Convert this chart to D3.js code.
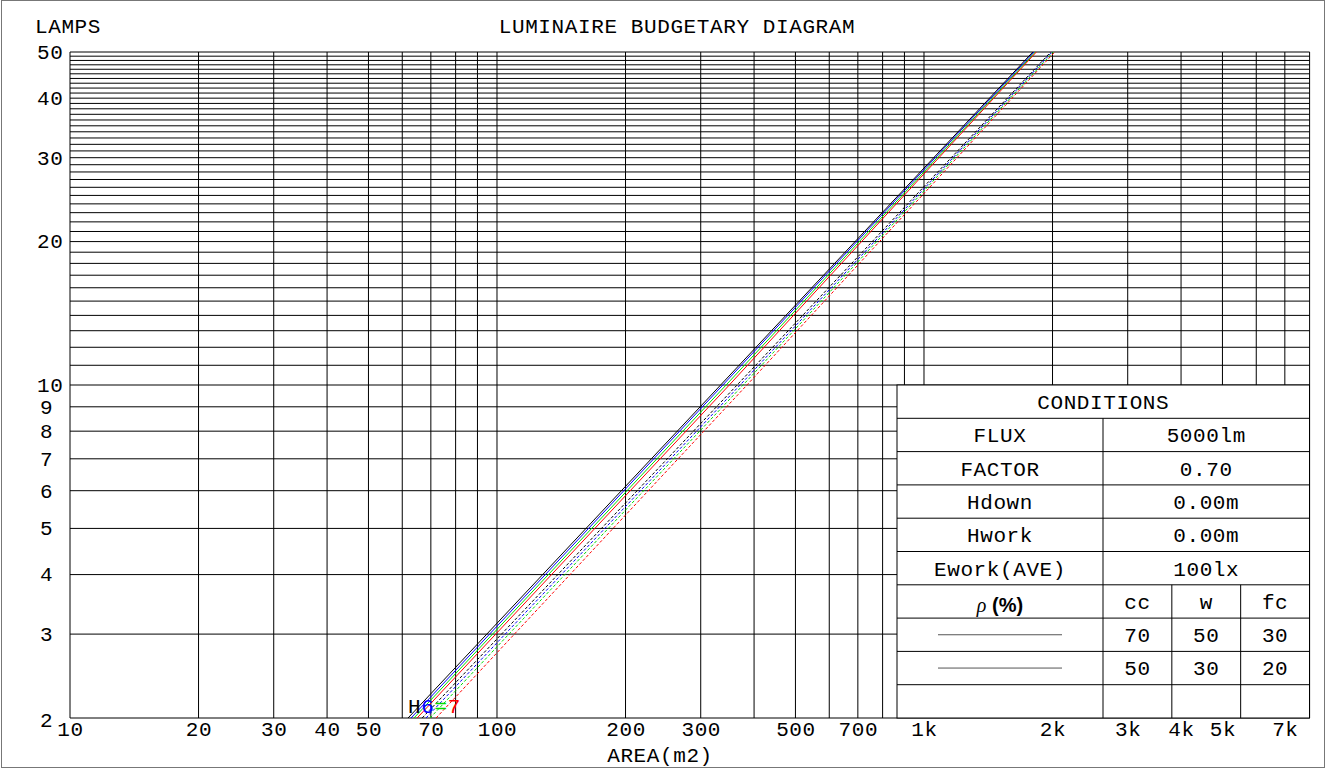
<!DOCTYPE html>
<html>
<head>
<meta charset="utf-8">
<script src="https://cdn.jsdelivr.net/npm/d3@7"></script>
<style>
  body { margin: 0; background: #fff; }
  text { font-family: "Courier New", "Liberation Mono", monospace; fill: #000; letter-spacing: 0.6px; }
</style>
</head>
<body>
<script>
// axis values
var xGridValues = [10,20,30,40,50,60,70,80,90,100,200,300,400,500,600,700,800,900,1000,2000,3000,4000,5000,6000,7000,8000];
var xTickValues = [10,20,30,40,50,70,100,200,300,500,700,1000,2000,3000,4000,5000,7000];
var xTickLabels = ["10","20","30","40","50","70","100","200","300","500","700","1k","2k","3k","4k","5k","7k"];
var yTickValues = [2,3,4,5,6,7,8,9,10,20,30,40,50];
var yGridValues = d3.range(2, 51);

// lamp counts at which areas were read
var lampCounts = [2, 10, 50];
// area (m2) per lamp count, 8 curves
var blackSolid = [61.9, 334, 1798];
var blueSolid  = [62.9, 338, 1810];
var greenSolid = [63.9, 344, 1823];
var redSolid   = [65.0, 350, 1833];
var blackDash  = [66.8, 365, 1981];
var blueDash   = [68.2, 371, 1995];
var greenDash  = [69.7, 377, 2009];
var redDash    = [72.0, 385, 2024];
var curveLabels = ["H", "6", "=", "7"];

// conditions table
var condNames = ["FLUX", "FACTOR", "Hdown", "Hwork", "Ework(AVE)"];
var condValues = ["5000lm", "0.70", "0.00m", "0.00m", "100lx"];
var reflHeads = ["cc", "w", "fc"];
var reflRow1 = ["70", "50", "30"];
var reflRow2 = ["50", "30", "20"];

var curves = [
	{area: blackSolid, color: "#000000", dash: null},
	{area: blueSolid,  color: "#0000ff", dash: null},
	{area: greenSolid, color: "#00dd00", dash: null},
	{area: redSolid,   color: "#ff0000", dash: null},
	{area: blackDash,  color: "#000000", dash: "3,2"},
	{area: blueDash,   color: "#0000ff", dash: "3,2"},
	{area: greenDash,  color: "#00dd00", dash: "3,2"},
	{area: redDash,    color: "#ff0000", dash: "3,2"}
];

var W = 1327, H = 769;
var plotL = 70, plotR = 1309.6, plotT = 52, plotB = 718;
var fs = 21;

var svg = d3.select("body").append("svg")
	.attr("width", W)
	.attr("height", H);

svg.append("rect")
	.attr("x", 1.5).attr("y", 0.5)
	.attr("width", W - 4).attr("height", H - 2)
	.attr("fill", "none")
	.attr("stroke", "#777");

var x = d3.scaleLog().domain([10, 8000]).range([plotL, plotR]);
var y = d3.scaleLog().domain([2, 50]).range([plotB, plotT]);

var grid = svg.append("g").attr("stroke", "#000").attr("stroke-width", 1);

grid.selectAll("line.h")
	.data(yGridValues)
	.enter().append("line")
	.attr("class", "h")
	.attr("x1", plotL).attr("x2", plotR)
	.attr("y1", function(d) { return y(d); })
	.attr("y2", function(d) { return y(d); });

grid.selectAll("line.v")
	.data(xGridValues)
	.enter().append("line")
	.attr("class", "v")
	.attr("x1", function(d) { return x(d); })
	.attr("x2", function(d) { return x(d); })
	.attr("y1", plotT).attr("y2", plotB);

// axes labels, drawn with d3 axes but lines removed
var xAxis = svg.append("g")
	.attr("transform", "translate(0," + (plotB + 3) + ")")
	.call(d3.axisBottom(x).tickValues(xTickValues).tickSize(0)
		.tickFormat(function(d, i) { return xTickLabels[i]; }));
xAxis.select(".domain").remove();
xAxis.selectAll("text")
	.attr("font-family", null)
	.attr("font-size", fs)
	.attr("dy", "0.55em");
xAxis.attr("font-family", null).attr("font-size", null);

var yAxis = svg.append("g")
	.attr("transform", "translate(37,0)")
	.call(d3.axisLeft(y).tickValues(yTickValues).tickSize(0)
		.tickFormat(d3.format("d")));
yAxis.select(".domain").remove();
yAxis.attr("font-family", null).attr("font-size", null);
yAxis.selectAll("text")
	.attr("font-size", fs)
	.attr("text-anchor", "start")
	.attr("x", function(d) { return d < 10 ? 3 : 0; })
	.attr("dy", function(d) { return d == 2 ? "0.4em" : "0.3em"; });

svg.append("text").attr("x", 35).attr("y", 33).attr("font-size", fs).text("LAMPS");
svg.append("text").attr("x", 677).attr("y", 33).attr("font-size", fs)
	.attr("text-anchor", "middle").text("LUMINAIRE BUDGETARY DIAGRAM");
svg.append("text").attr("x", 660).attr("y", 762).attr("font-size", fs)
	.attr("text-anchor", "middle").text("AREA(m2)");

// curves
var line = d3.line()
	.x(function(d) { return x(d[1]); })
	.y(function(d) { return y(d[0]); });

svg.append("g").selectAll("path")
	.data(curves)
	.enter().append("path")
	.attr("d", function(c) { return line(lampCounts.map(function(n, i) { return [n, c.area[i]]; })); })
	.attr("fill", "none")
	.attr("stroke", function(c) { return c.color; })
	.attr("stroke-width", 1)
	.attr("stroke-dasharray", function(c) { return c.dash; });

// overlapping curve labels at the low end
svg.append("g").selectAll("text")
	.data(curveLabels)
	.enter().append("text")
	.attr("x", function(d, i) { return x(curves[0].area[0]) + i * 13.2; })
	.attr("y", y(2) - 5)
	.attr("font-size", fs)
	.style("fill", function(d, i) { return curves[i].color; })
	.text(function(d) { return d; });

// conditions table
var tx0 = 897, tx1 = 1103, tx2 = 1309.5, ty0 = y(10), rowH = (plotB - ty0) / 10;
var subW = (tx2 - tx1) / 3;
var tbl = svg.append("g");

tbl.append("rect")
	.attr("x", tx0).attr("y", ty0)
	.attr("width", tx2 - tx0).attr("height", plotB - ty0)
	.attr("fill", "#fff").attr("stroke", "#000");

tbl.selectAll("line.row")
	.data(d3.range(1, 10))
	.enter().append("line")
	.attr("x1", tx0).attr("x2", tx2)
	.attr("y1", function(d) { return ty0 + d * rowH; })
	.attr("y2", function(d) { return ty0 + d * rowH; })
	.attr("stroke", "#000");

tbl.append("line")
	.attr("x1", tx1).attr("x2", tx1)
	.attr("y1", ty0 + rowH).attr("y2", plotB)
	.attr("stroke", "#000");

tbl.selectAll("line.sub")
	.data([1, 2])
	.enter().append("line")
	.attr("x1", function(d) { return tx1 + d * subW; })
	.attr("x2", function(d) { return tx1 + d * subW; })
	.attr("y1", ty0 + 6 * rowH).attr("y2", plotB)
	.attr("stroke", "#000");

function cellText(cx, row, str) {
	return tbl.append("text")
		.attr("x", cx)
		.attr("y", ty0 + row * rowH + rowH / 2)
		.attr("dy", "0.35em")
		.attr("font-size", fs)
		.attr("text-anchor", "middle")
		.text(str);
}

cellText((tx0 + tx2) / 2, 0, "CONDITIONS");
condNames.forEach(function(s, i) {
	cellText((tx0 + tx1) / 2, i + 1, s);
	cellText((tx1 + tx2) / 2, i + 1, condValues[i]);
});

reflHeads.forEach(function(s, i) {
	cellText(tx1 + subW * (i + 0.5), 6, s);
	cellText(tx1 + subW * (i + 0.5), 7, reflRow1[i]);
	cellText(tx1 + subW * (i + 0.5), 8, reflRow2[i]);
});

var rho = tbl.append("text")
	.attr("x", (tx0 + tx1) / 2)
	.attr("y", ty0 + 7 * rowH - 6)
	.attr("text-anchor", "middle")
	.style("font-family", "Liberation Sans, Arial, sans-serif")
	.style("letter-spacing", "0px")
	.attr("font-size", 20);
rho.append("tspan").style("font-style", "italic").style("font-family", "Liberation Serif, serif").text("ρ");
rho.append("tspan").style("font-weight", "bold").text(" (%)");

[7, 8].forEach(function(r) {
	tbl.append("line")
		.attr("x1", 938).attr("x2", 1062)
		.attr("y1", ty0 + r * rowH + rowH / 2)
		.attr("y2", ty0 + r * rowH + rowH / 2)
		.attr("stroke", "#555");
});
</script>
</body>
</html>
